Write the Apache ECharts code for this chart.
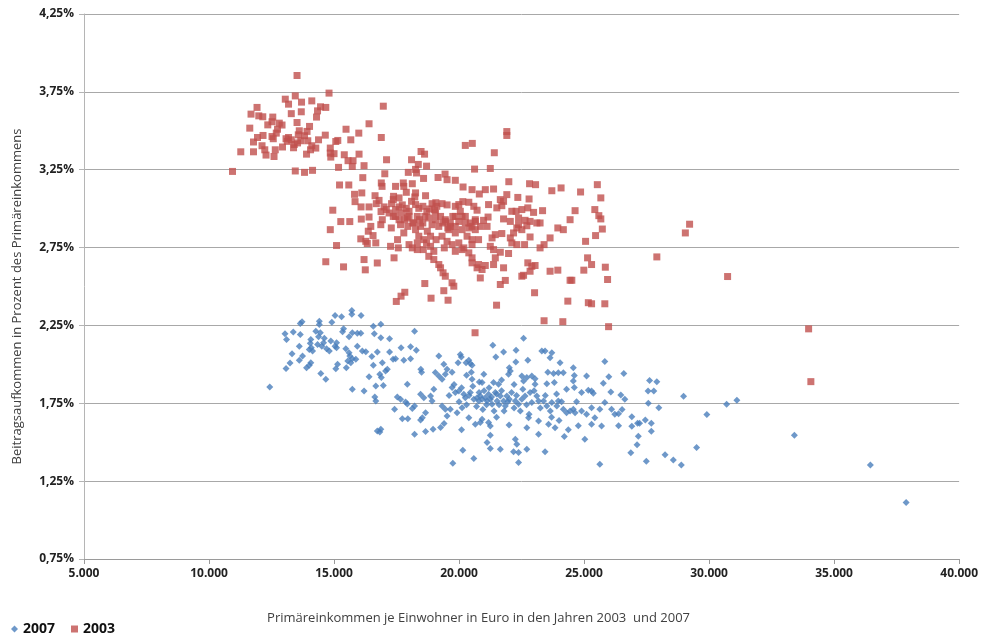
<!DOCTYPE html>
<html>
<head>
<meta charset="utf-8">
<title>Beitragsaufkommen und Primäreinkommen</title>
<script src="https://cdn.jsdelivr.net/npm/echarts@6/dist/echarts.min.js"></script>
<style>
  html, body { margin: 0; padding: 0; background: #fff; }
  #chart { width: 981px; height: 635px; }
</style>
</head>
<body>
<div id="chart"></div>
<script>
// Primäreinkommen (Euro) / Beitragsaufkommen (% des Primäreinkommens)
const points2007 = [
  [15710,2.346],[15710,2.321],[16080,2.314],[15040,2.314],[15300,2.306],[13720,2.274],[13650,2.263],[14410,2.277],[14410,2.256],[14910,2.271],
  [16570,2.245],[16870,2.258],[13040,2.197],[13370,2.207],[13650,2.192],[13100,2.16],[14270,2.213],[14450,2.203],[14380,2.178],[14610,2.167],
  [14580,2.139],[14870,2.15],[15100,2.139],[15380,2.229],[15340,2.21],[15730,2.203],[15930,2.2],[16070,2.2],[15600,2.178],[16610,2.197],
  [16870,2.171],[17220,2.165],[18220,2.212],[14070,2.16],[14050,2.135],[14090,2.107],[14140,2.086],[14010,2.096],[13610,2.117],[13320,2.068],
  [13740,2.053],[13610,2.027],[13240,2.008],[13080,1.974],[14070,2.011],[14010,1.994],[13900,1.979],[14340,2.128],[14510,2.117],[14700,2.1],
  [14810,2.086],[15040,2.117],[15100,2.107],[15470,2.1],[15600,2.075],[15630,2.053],[15730,2.036],[15550,2.021],[15670,2.011],[15930,2.117],
  [16130,2.086],[16270,2.081],[15870,2.032],[15490,1.979],[15070,1.972],[15140,2.0],[14470,1.942],[14670,1.904],[15730,1.84],[16200,1.829],
  [16400,1.921],[16670,1.861],[16630,1.79],[16670,1.765],[16970,1.865],[16890,1.915],[16830,1.936],[16570,1.994],[16930,2.011],[16730,2.079],
  [16510,2.05],[17060,1.957],[17130,1.968],[17220,2.079],[17460,2.036],[17360,2.032],[17680,2.107],[18060,2.113],[18290,2.09],[18060,2.036],
  [17790,2.026],[18470,1.968],[18500,1.95],[17930,1.872],[19190,2.053],[19050,1.947],[19320,1.904],[19190,1.925],[19450,1.936],[19390,2.0],
  [19520,1.968],[17530,1.79],[17660,1.776],[17860,1.759],[17930,1.745],[18130,1.717],[18220,1.732],[17420,1.712],[17730,1.651],[17950,1.651],
  [18530,1.657],[18660,1.69],[18460,1.643],[18220,1.551],[18660,1.569],[18960,1.583],[19260,1.594],[18460,1.808],[18590,1.786],[18860,1.797],
  [18990,1.84],[18920,1.765],[19320,1.733],[19450,1.712],[19520,1.669],[16730,1.572],[16870,1.583],[16830,1.566],[12430,1.854],
  [22580,2.167],[21350,2.122],[21780,2.079],[21470,2.047],[22280,2.091],[22750,2.026],[22270,2.015],[23310,2.086],[23440,2.086],[23710,2.075],
  [23640,2.043],[24040,2.011],[24570,1.979],[25830,2.019],[25990,1.921],[25770,1.878],[20050,2.064],[20090,2.047],[19960,2.011],[20280,2.011],
  [20390,2.026],[20450,2.005],[20520,1.994],[19720,1.95],[20490,1.95],[20990,1.936],[21380,1.883],[21580,1.872],[20920,1.883],[20810,1.887],
  [20520,1.904],[22010,1.979],[22050,1.957],[21980,1.936],[22510,1.925],[22710,1.915],[22910,1.925],[23040,1.908],[22580,1.893],[23040,1.872],
  [23550,1.95],[23780,1.942],[23970,1.946],[24170,1.946],[23810,1.883],[23510,1.876],[24610,1.929],[24570,1.893],[25100,1.925],[24900,1.819],
  [24610,1.851],[25300,1.829],[25370,1.814],[26070,1.822],[25170,1.833],[19720,1.851],[19850,1.819],[19990,1.829],[20190,1.808],[20250,1.786],
  [20450,1.819],[20590,1.776],[20720,1.786],[20790,1.765],[20850,1.797],[20920,1.776],[21050,1.786],[21120,1.765],[21180,1.808],[21250,1.776],
  [21320,1.744],[21450,1.819],[21650,1.797],[21520,1.765],[21780,1.765],[21910,1.797],[21850,1.733],[22010,1.776],[22250,1.765],[22380,1.744],
  [22510,1.776],[22640,1.797],[22840,1.819],[22910,1.755],[23110,1.797],[23180,1.765],[23380,1.765],[23510,1.733],[23710,1.755],[23910,1.733],
  [23970,1.765],[24170,1.712],[24300,1.69],[24440,1.701],[24570,1.712],[24640,1.69],[24900,1.701],[25100,1.679],[25300,1.722],[25430,1.657],
  [25630,1.712],[25830,1.755],[26100,1.712],[26230,1.679],[19650,1.712],[19920,1.69],[20120,1.722],[20390,1.657],[20650,1.615],[20850,1.626],
  [20920,1.647],[21180,1.626],[21250,1.604],[21250,1.545],[21120,1.498],[21250,1.459],[21650,1.455],[22250,1.519],[22310,1.487],[22180,1.438],
  [22380,1.434],[22380,1.37],[22780,1.657],[22710,1.593],[23180,1.636],[23580,1.615],[23840,1.593],[23180,1.551],[23440,1.438],[24210,1.537],
  [24370,1.58],[24770,1.606],[25030,1.519],[25300,1.615],[25700,1.604],[22710,1.455],[20590,1.395],[20150,1.449],[19750,1.365],[25630,1.359],
  [19600,1.80],[19800,1.87],[20000,1.76],[20100,1.85],[20300,1.74],[20400,1.80],[20550,1.86],[20700,1.73],[20800,1.82],[20950,1.71],
  [21000,1.83],[21100,1.74],[21200,1.85],[21300,1.79],[21400,1.70],[21500,1.81],[21600,1.74],[21700,1.83],[21800,1.70],[21950,1.76],
  [22100,1.82],[22200,1.72],[22300,1.80],[22450,1.70],[22550,1.84],[22700,1.74],[22800,1.68],[23000,1.83],[23250,1.72],[23450,1.80],
  [23650,1.70],[23900,1.81],[24100,1.76],[24300,1.84],[24700,1.76],[20300,1.93],[21700,1.90],[22200,1.87],[19400,1.62],[20100,1.58],
  [21500,1.66],[22000,1.61],[23700,1.66],[24000,1.64],
  [26590,1.942],[26470,1.803],[26630,1.776],[27620,1.897],[27910,1.889],[27560,1.829],[27790,1.829],[27570,1.75],[27990,1.722],[28980,1.795],
  [26520,1.71],[26380,1.683],[26910,1.663],[26910,1.603],[26380,1.606],[27140,1.622],[27220,1.622],[27450,1.643],[27690,1.622],[27690,1.571],
  [27170,1.538],[27120,1.483],[26870,1.432],[27490,1.378],[28240,1.419],[28570,1.385],[28890,1.353],[29500,1.466],[29910,1.678],[30700,1.744],
  [31110,1.769],[33410,1.545],[36450,1.353],[37880,1.113]
];

const points2003 = [
  [13520,3.855],[13450,3.724],[13050,3.703],[13180,3.671],[13700,3.684],[14110,3.692],[14800,3.742],[11920,3.65],[11680,3.607],[11990,3.596],
  [12150,3.59],[12550,3.588],[13290,3.61],[13690,3.622],[14340,3.628],[14460,3.654],[14670,3.65],[16970,3.658],[12520,3.558],[12350,3.538],
  [12810,3.549],[12920,3.537],[13520,3.553],[14300,3.588],[11630,3.517],[12740,3.51],[12690,3.485],[12160,3.47],[11940,3.457],[11780,3.428],
  [12520,3.463],[12570,3.449],[13180,3.457],[13290,3.442],[13610,3.5],[13570,3.474],[13920,3.496],[14020,3.528],[13820,3.468],[13670,3.436],
  [13950,3.436],[13130,3.432],[13080,3.449],[13540,3.422],[12940,3.396],[13380,3.391],[13410,3.412],[14380,3.442],[14270,3.389],[14110,3.404],
  [14650,3.472],[13900,3.35],[14060,3.378],[12120,3.404],[12230,3.378],[12280,3.344],[12650,3.378],[12600,3.335],[11780,3.365],[11270,3.365],
  [10940,3.239],[13450,3.242],[13820,3.233],[14140,3.246],[14850,3.389],[14870,3.331],[15000,3.353],[15150,3.438],[15070,3.431],[15480,3.51],
  [15670,3.442],[15990,3.485],[16400,3.545],[16890,3.457],[15410,3.346],[15560,3.308],[15760,3.308],[16000,3.35],[15730,3.271],[16200,3.276],
  [15180,3.265],[16150,3.199],[15220,3.152],[15590,3.152],[15820,3.092],[16110,3.101],[16640,3.083],[17030,3.224],[16890,3.165],[16920,3.143],
  [17100,3.314],[17460,3.143],[17380,3.079],[14850,3.357],
  [18480,3.367],[18620,3.35],[18100,3.314],[18370,3.284],[18700,3.273],[18300,3.229],[18260,3.252],[18580,3.194],[19160,3.2],[19440,3.222],
  [19520,3.186],[19850,3.182],[20250,3.406],[20530,3.419],[20620,3.254],[20160,3.139],[20520,3.122],[17970,3.233],[17770,3.165],[17790,3.143],
  [18130,3.16],[17890,3.105],[15840,3.045],[16080,3.011],[16400,3.011],[16800,3.053],[16690,3.032],[17000,3.011],[16880,2.981],[17090,2.994],
  [17600,3.069],[18260,3.101],[18230,3.075],[18660,3.083],[17370,3.058],[17300,3.032],[17460,2.994],[17600,3.011],[17730,3.024],[17890,3.002],
  [18000,2.983],[18100,3.047],[18260,3.026],[18390,3.002],[18550,3.015],[18710,2.981],[18920,3.032],[19070,3.038],[19320,3.032],[19110,3.015],
  [19020,2.992],[19520,3.024],[19850,3.015],[19990,3.026],[20150,3.045],[20390,3.041],[20590,3.015],[20720,2.99],
  [14950,2.99],[15270,2.917],[15630,2.917],[14850,2.865],[15100,2.763],[14670,2.659],[15380,2.626],[16200,2.673],[16250,2.607],[16730,2.651],
  [16090,2.933],[16400,2.946],[16470,2.886],[16370,2.855],[16070,2.806],[16270,2.79],[16330,2.776],[16670,2.78],[16560,2.827],[16870,2.897],
  [16930,2.929],[17290,2.876],[17540,2.801],[17260,2.758],[17570,2.748],[17400,2.684],[17950,2.886],[18260,2.865],[18000,2.769],
  [18130,2.748],[18330,2.737],[18570,2.737],[18700,2.78],[18860,2.758],[18990,2.726],[18790,2.694],[18990,2.673],
  [19190,2.641],[19260,2.62],[19360,2.588],[19450,2.566],[19720,2.524],[19790,2.502],
  [18630,2.519],[19390,2.473],[19560,2.412],[18880,2.425],[17830,2.463],[17680,2.438],[17490,2.404],
  [19590,2.865],[19850,2.844],[20120,2.865],[20320,2.823],[20520,2.801],[19990,2.78],[20190,2.748],[20390,2.716],[20520,2.684],[20520,2.652],
  [20720,2.62],[20640,2.203],
  [17200,2.972],[17370,2.95],[17460,2.95],[17600,2.929],[17730,2.972],[17830,2.929],[18000,2.95],[18150,2.908],[18330,2.95],[18420,2.929],
  [18550,2.908],[18630,2.95],[18790,2.94],[18920,2.897],[19060,2.929],[19190,2.886],[19350,2.908],[19450,2.929],[19550,2.876],[19650,2.908],
  [19750,2.95],[19850,2.886],[19990,2.918],[20120,2.95],[20250,2.908],[20390,2.876],[20520,2.886],[20650,2.918],
  [18820,2.998],[19060,2.972],[19260,2.95],[19450,2.918],[19650,2.886],[19850,2.95],[20050,2.983],[20250,2.95],[20450,2.908],[20650,2.865],
  [20520,2.769],[20780,2.801],[19320,2.823],[19520,2.79],[19720,2.769],[19850,2.726],[20120,2.737],[19410,2.748],[19080,2.801],[18860,2.823],
  [18730,2.855],[18460,2.886],[18190,2.908],[17930,2.94],[17660,2.897],[17790,2.844],[18390,2.823],[18590,2.801],[18330,2.78],
  [21910,3.495],[21910,3.47],[21410,3.359],[21250,3.258],[21990,3.173],[22820,3.16],[23060,3.154],[23710,3.115],[24080,3.133],[24860,3.107],
  [25530,3.154],[25670,3.069],[21050,3.122],[21380,3.126],[20810,3.094],[21910,3.09],[22350,3.072],[22800,3.062],[21650,3.058],[21780,3.047],
  [21180,3.026],[21710,3.019],[21510,3.005],[22110,2.983],[22280,2.983],[22510,2.994],[22750,3.005],[22980,2.976],[23340,2.987],[21780,2.934],
  [22050,2.918],[22380,2.94],[22640,2.925],[22840,2.918],[23110,2.908],[23240,2.908],[20650,2.929],[20980,2.925],[21160,2.946],[20850,2.886],
  [21120,2.886],[21320,2.812],[21450,2.833],[21710,2.84],[22050,2.812],[22180,2.844],[22310,2.876],[22380,2.897],[22510,2.865],[22710,2.89],
  [22840,2.818],[22110,2.78],[22310,2.769],[22620,2.769],[21250,2.758],[21380,2.737],[21650,2.72],[21980,2.712],[21450,2.684],[23640,2.812],
  [23950,2.876],[24170,2.865],[24440,2.929],[24640,2.987],[23240,2.748],[23400,2.769],[25060,2.79],[25460,2.827],[25730,2.869],[25670,2.934],
  [25430,2.994],[25590,2.955],[25140,2.684],[25300,2.641],[24990,2.605],[25850,2.624],[25940,2.545],[24440,2.54],[20780,2.641],[20920,2.609],
  [21050,2.635],[20850,2.555],[21380,2.641],[21780,2.62],[21650,2.513],[21850,2.539],[22750,2.652],[22910,2.63],[23040,2.635],[22840,2.598],
  [22580,2.572],[22510,2.566],[23640,2.598],[23950,2.605],[24510,2.54],[23020,2.46],[21500,2.38],[24350,2.406],[25170,2.396],[25300,2.389],
  [25830,2.389],[23400,2.28],[24150,2.274],[25980,2.242],
  [29220,2.9],[29050,2.844],[27910,2.69],[30740,2.564],[33980,2.228],[34070,1.889]
];

const seriesNames = ['2007', '2003'];
const xMin = 5000, xMax = 40000, xStep = 5000;
const yMin = 0.75, yMax = 4.25, yStep = 0.5;

const fmtEuro = v => String(v).replace(/\B(?=(\d{3})+(?!\d))/g, '.');
const fmtPct = v => v.toFixed(2).replace('.', ',') + '%';

const chart = echarts.init(document.getElementById('chart'));

const labelFont = { fontFamily: 'Open Sans', fontSize: 12, fontWeight: 'bold', color: '#222' };

const option = {
  animation: false,
  grid: { left: 84, right: 19, top: 14, bottom: 76 },
  legend: {
    data: seriesNames,
    left: 6,
    top: 617,
    itemWidth: 7,
    itemHeight: 7,
    itemGap: 16,
    textStyle: { fontFamily: 'Open Sans', fontSize: 14, fontWeight: 'bold', color: '#111' }
  },
  xAxis: {
    type: 'value',
    min: xMin,
    max: xMax,
    interval: xStep,
    name: 'Primäreinkommen je Einwohner in Euro in den Jahren 2003  und 2007',
    nameLocation: 'middle',
    nameGap: 53,
    nameTextStyle: { fontFamily: 'Open Sans', fontSize: 13, color: '#404040', padding: [0, 86, 0, 0] },
    axisLine: { lineStyle: { color: '#9a9a9a' } },
    axisTick: { show: true, length: 5, lineStyle: { color: '#9a9a9a' } },
    axisLabel: Object.assign({ formatter: fmtEuro, margin: 9 }, labelFont),
    splitLine: { show: false }
  },
  yAxis: {
    type: 'value',
    min: yMin,
    max: yMax,
    interval: yStep,
    name: 'Beitragsaufkommen in Prozent des Primäreinkommens',
    nameLocation: 'middle',
    nameGap: 60,
    nameTextStyle: { fontFamily: 'Open Sans', fontSize: 13, color: '#404040', padding: [0, 20, 0, 0] },
    axisLine: { show: true, lineStyle: { color: '#b5b5b5' } },
    axisTick: { show: true, length: 5, lineStyle: { color: '#b5b5b5' } },
    axisLabel: Object.assign({ formatter: fmtPct, margin: 10 }, labelFont),
    splitLine: { show: true, lineStyle: { color: '#a8a8a8', width: 1 } }
  },
  series: [
    {
      name: seriesNames[0],
      type: 'scatter',
      symbol: 'diamond',
      symbolSize: 7,
      itemStyle: { color: '#4a7ebb' },
      data: points2007
    },
    {
      name: seriesNames[1],
      type: 'scatter',
      symbol: 'rect',
      symbolSize: 7,
      itemStyle: { color: '#c0504d' },
      data: points2003
    }
  ]
};

chart.setOption(option);
</script>
</body>
</html>
